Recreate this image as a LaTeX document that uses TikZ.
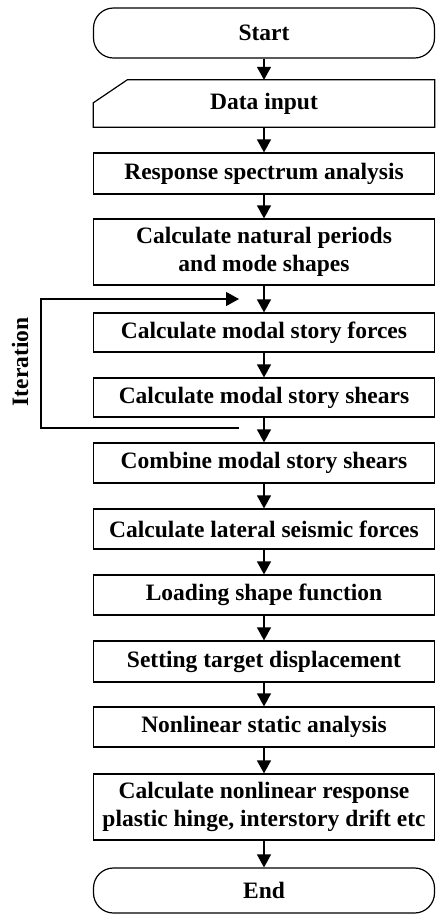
\documentclass[tikz,border=0pt]{standalone}
\usepackage{fontspec}
\setmainfont{Liberation Serif}
\usetikzlibrary{arrows.meta,calc}
\begin{document}
\begin{tikzpicture}[x=1pt,y=-1pt,
  txt/.style={font=\fontsize{23.5}{28}\selectfont\bfseries, align=center},
  box/.style={txt, draw, line width=1.2pt, minimum width=341pt, inner sep=0pt},
  term/.style={box, rounded corners=20pt},
  arr/.style={-{Triangle[width=14pt,length=13pt]}, line width=1.3pt}]
\useasboundingbox (0,0) rectangle (436,914);
\node[term, minimum height=50pt] (start) at (264,33) {Start};
\node[txt, minimum width=341pt, minimum height=47pt, inner sep=0pt] (data) at (264,103.5) {Data input};
\draw[line width=1.2pt] (data.south west) -- ($(data.north west)+(0,23)$) -- ($(data.north west)+(34,0)$) -- (data.north east) -- (data.south east) -- cycle;
\node[box, minimum height=41pt] (resp) at (264,173.5) {Response spectrum analysis};
\node[box, minimum height=66pt] (nat) at (264,252) {Calculate natural periods\\and mode shapes};
\node[box, minimum height=39pt] (forc) at (264,332.5) {Calculate modal story forces};
\node[box, minimum height=39pt] (shear) at (264,397.5) {Calculate modal story shears};
\node[box, minimum height=40pt] (comb) at (264,463) {Combine modal story shears};
\node[box, minimum height=40pt] (lat) at (264,529) {Calculate lateral seismic forces};
\node[box, minimum height=40pt] (load) at (264,595) {Loading shape function};
\node[box, minimum height=41pt] (set) at (264,661.5) {Setting target displacement};
\node[box, minimum height=40pt] (nls) at (264,727) {Nonlinear static analysis};
\node[box, minimum height=66pt] (cnr) at (264,807) {Calculate nonlinear response\\plastic hinge, interstory drift etc};
\node[term, minimum height=45pt] (end) at (264,890.5) {End};
\draw[arr] (start.south) -- (data.north);
\draw[arr] (data.south) -- (resp.north);
\draw[arr] (resp.south) -- (nat.north);
\draw[arr] (nat.south) -- (forc.north);
\draw[arr] (forc.south) -- (shear.north);
\draw[arr] (shear.south) -- (comb.north);
\draw[arr] (comb.south) -- (lat.north);
\draw[arr] (lat.south) -- (load.north);
\draw[arr] (load.south) -- (set.north);
\draw[arr] (set.south) -- (nls.north);
\draw[arr] (nls.south) -- (cnr.north);
\draw[arr] (cnr.south) -- (end.north);
\coordinate (lbot) at (239,428);
\coordinate (ltop) at (239,299);
\draw[arr] (lbot) -- (41,428) -- (41,299) -- (ltop);
\node[txt, rotate=90] (iter) at (20,362) {Iteration};
\end{tikzpicture}
\end{document}
